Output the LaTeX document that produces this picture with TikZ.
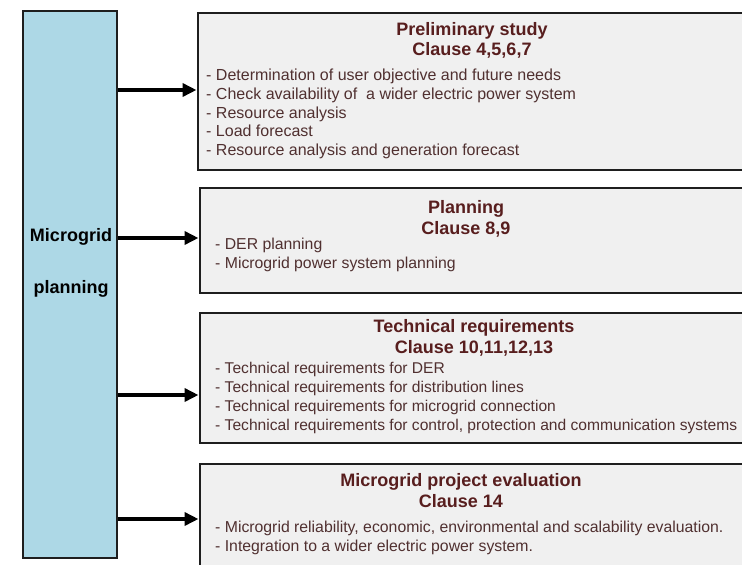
\documentclass[tikz,border=0pt]{standalone}
\usepackage{fontspec}
\setmainfont{Liberation Sans}
\usepackage{tikz}
\usetikzlibrary{arrows.meta,backgrounds,calc}
\definecolor{boxgray}{RGB}{240,240,240}
\definecolor{leadblue}{RGB}{173,216,230}
\definecolor{edgegray}{RGB}{30,30,30}
\definecolor{headred}{RGB}{88,30,30}
\definecolor{itembrown}{RGB}{80,48,48}
\begin{document}
\begin{tikzpicture}[x=1pt,y=-1pt,
  leadbox/.style={draw=edgegray,line width=2pt,fill=leadblue,inner sep=0pt},
  stepbox/.style={draw=edgegray,line width=2pt,fill=boxgray,anchor=north west,minimum width=560pt,inner sep=0pt},
  head/.style={align=center,inner sep=0pt,text=headred,font=\fontsize{18}{21}\selectfont\bfseries},
  items/.style={align=left,anchor=west,inner sep=0pt,text=itembrown,font=\fontsize{15.8}{19}\selectfont},
  arr/.style={line width=3.5pt,-{Triangle[length=14pt,width=13pt]}}]
\useasboundingbox (0,0) rectangle (742,565);
% left block
\node[leadbox,minimum width=94.5pt,minimum height=547pt] (lead) at (69.75,284.5) {};
\node[align=center,inner sep=0pt,font=\fontsize{18}{21}\selectfont\bfseries] (leadtext) at (71,263) {Microgrid\\[31pt]planning};
% boxes
\node[stepbox,minimum height=157.5pt] (study) at (196.5,11.5) {};
\node[stepbox,minimum height=105pt] (plan) at (198.5,187) {};
\node[stepbox,minimum height=130pt] (tech) at (198.5,312) {};
\node[stepbox,minimum height=125pt] (eval) at (198.5,463) {};
% titles
\node[head,font=\fontsize{18}{19.5}\selectfont\bfseries] (study-t) at (472,40.5) {Preliminary study\\Clause 4,5,6,7};
\node[head] (plan-t) at (466,219) {Planning\\Clause 8,9};
\node[head] (tech-t) at (474,338) {Technical requirements\\Clause 10,11,12,13};
\node[head] (eval-t) at (461,491) {Microgrid project evaluation\\Clause 14};
% items
\node[items,font=\fontsize{16}{18.75}\selectfont] (study-l) at (206,114) {- Determination of user objective and future needs\\
- Check availability of\ \ a wider electric power system\\
- Resource analysis\\
- Load forecast\\
- Resource analysis and generation forecast};
\node[items] (plan-l) at (215,255) {- DER planning\\
- Microgrid power system planning};
\node[items,font=\fontsize{15.6}{19}\selectfont] (tech-l) at (215,397.5) {- Technical requirements for DER\\
- Technical requirements for distribution lines\\
- Technical requirements for microgrid connection\\
- Technical requirements for control, protection and communication systems};
\node[items] (eval-l) at (215,538) {- Microgrid reliability, economic, environmental and scalability evaluation.\\
- Integration to a wider electric power system.};
% arrows
\foreach \b/\y in {study/90,plan/238,tech/395,eval/519}
  \draw[arr] (lead.east |- 0,\y) -- (\b.west |- 0,\y);
\end{tikzpicture}
\end{document}
